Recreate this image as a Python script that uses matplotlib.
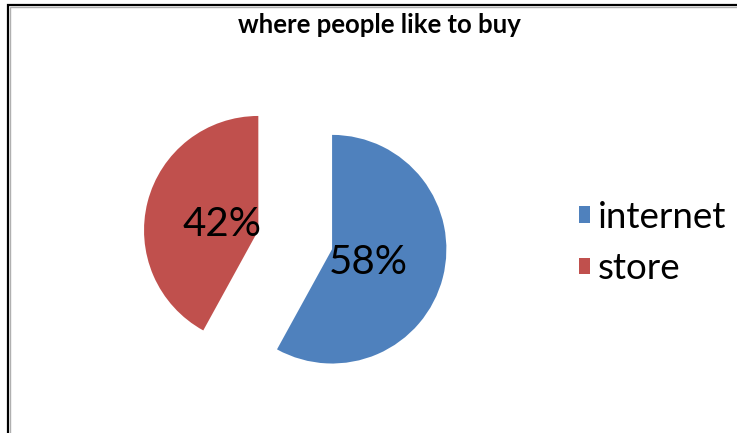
import matplotlib
matplotlib.use("Agg")
import matplotlib.pyplot as plt
from matplotlib.patches import Rectangle

# data
labels = ["internet", "store"]
values = [58, 42]
colors = ["#4F81BD", "#C0504D"]

plt.rcParams['font.family'] = ['Lato', 'DejaVu Sans']

fig = plt.figure(figsize=(7.37, 4.33), dpi=100)

# chart frame (black line with grey inner shadow), runs off right/bottom
fig.patches.append(Rectangle((7.7 / 737, -0.1), 1.2, (433 - 5) / 433 + 0.1,
                             transform=fig.transFigure, fill=False,
                             edgecolor='black', linewidth=1.6))
fig.patches.append(Rectangle((9.7 / 737, -0.1), 1.2, (433 - 6.8) / 433 + 0.1,
                             transform=fig.transFigure, fill=False,
                             edgecolor='#b0b0b0', linewidth=1.0))

# pie axes
ax = fig.add_axes([0.1679, 0.0503, 0.4653, 0.7921])
wedges, texts, autotexts = ax.pie(values, colors=colors, startangle=90,
                                  counterclock=False, explode=[0.333, 0.333],
                                  autopct='%d%%', pctdistance=0.33,
                                  textprops={'fontsize': 29, 'color': 'black'})
# labels sit a little lower in the original
for t in autotexts:
    x, y = t.get_position()
    t.set_position((x, y - 0.035))
ax.set_xlim(-1.5, 1.5)
ax.set_ylim(-1.5, 1.5)
ax.set_aspect('equal')
ax.axis('off')

fig.text(0.515, 1 - 33.3 / 433, "where people like to buy", ha='center',
         va='baseline', fontsize=18.5, fontweight='bold')

fig.legend(wedges, labels, loc='center left',
           bbox_to_anchor=(579 / 737, (433 - 243) / 433),
           frameon=False, fontsize=26.5, handlelength=0.3, handleheight=0.3,
           handletextpad=0.2, labelspacing=0.5, borderpad=0, borderaxespad=0)

fig.savefig("out.png", dpi=100)
